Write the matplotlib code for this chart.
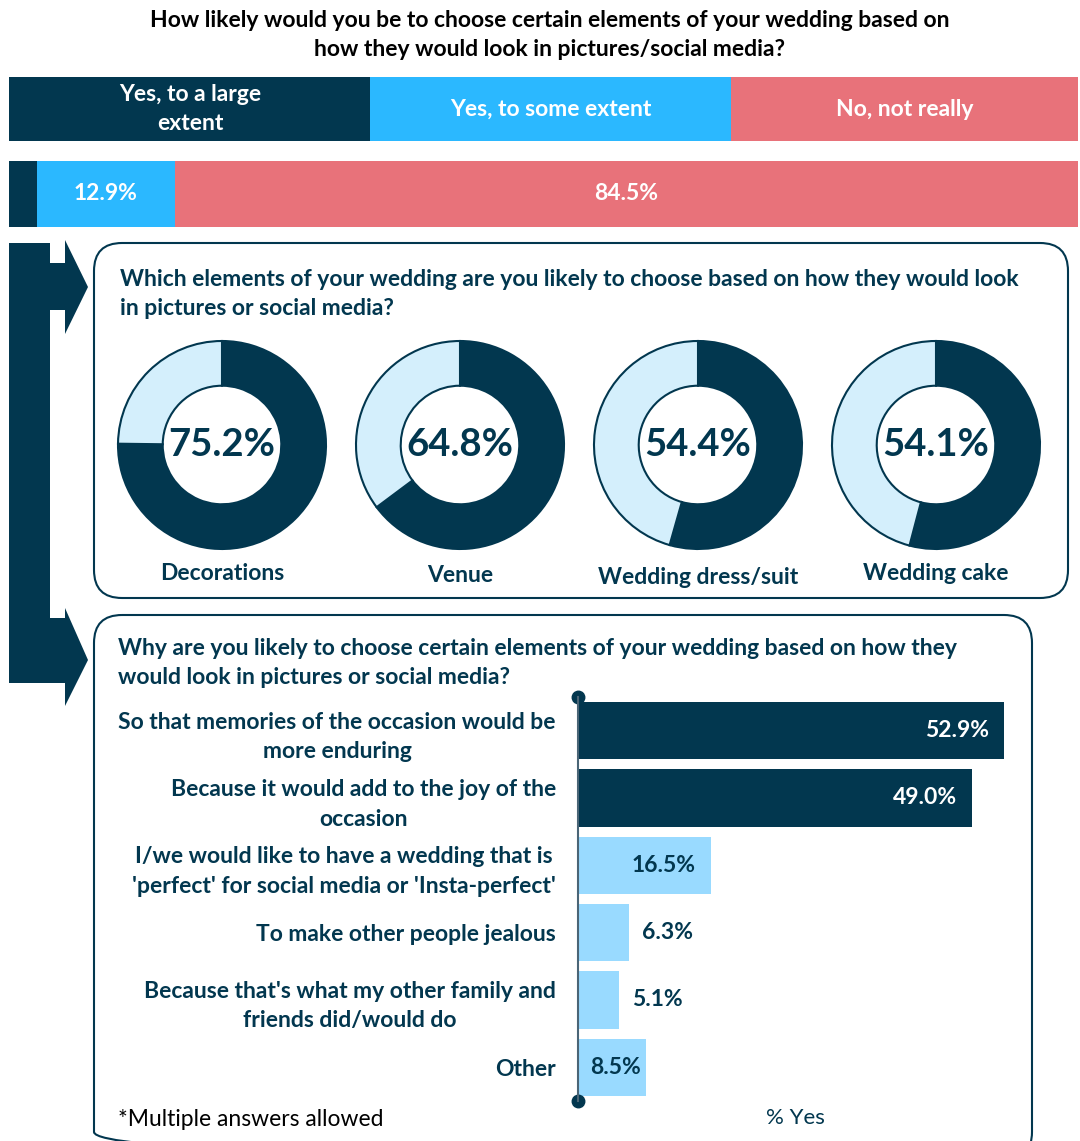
import matplotlib.pyplot as plt
from matplotlib.patches import Rectangle, FancyBboxPatch, Polygon

plt.rcParams['font.family'] = ['Lato', 'DejaVu Sans']

NAVY = '#02374F'
BLUE = '#2BB8FF'
SALMON = '#E8727A'
PALE = '#D4EFFC'
LIGHT = '#99DAFF'

# top question
title = "How likely would you be to choose certain elements of your wedding based on\nhow they would look in pictures/social media?"
likely_labels = ["Yes, to a large\nextent", "Yes, to some extent", "No, not really"]
likely_values = [2.6, 12.9, 84.5]
likely_colors = [NAVY, BLUE, SALMON]

# donuts
elements_title = "Which elements of your wedding are you likely to choose based on how they would look\nin pictures or social media?"
elements = ["Decorations", "Venue", "Wedding dress/suit", "Wedding cake"]
element_values = [75.2, 64.8, 54.4, 54.1]

# reasons
reasons_title = "Why are you likely to choose certain elements of your wedding based on how they\nwould look in pictures or social media?"
reasons = [
    "So that memories of the occasion would be\nmore enduring",
    "Because it would add to the joy of the\noccasion",
    "I/we would like to have a wedding that is\n'perfect' for social media or 'Insta-perfect'",
    "To make other people jealous",
    "Because that's what my other family and\nfriends did/would do",
    "Other",
]
reason_values = [52.9, 49.0, 16.5, 6.3, 5.1, 8.5]

FS = 16.5
LS = 1.5
W, H = 1080, 1141
fig = plt.figure(figsize=(W / 100, H / 100), dpi=100)
bg = fig.add_axes([0, 0, 1, 1])
bg.set_xlim(0, W)
bg.set_ylim(H, 0)
bg.axis('off')


def px_axes(x0, y0, x1, y1):
    ax = fig.add_axes([x0 / W, 1 - y1 / H, (x1 - x0) / W, (y1 - y0) / H])
    ax.patch.set_alpha(0)
    return ax


bg.text(550, 35, title, ha='center', va='center', fontsize=FS, fontweight='bold',
        color='black', linespacing=LS)

# header row (legend-like)
hdr = [(9, 370), (370, 731), (731, 1078)]
for (x0, x1), lab, col in zip(hdr, likely_labels, likely_colors):
    bg.add_patch(Rectangle((x0, 77), x1 - x0, 64, color=col, lw=0))
    tx = 190 if lab.startswith("Yes, to a") else (x0 + x1) / 2
    bg.text(tx, 109, lab, ha='center', va='center', fontsize=FS, fontweight='bold',
            color='white', linespacing=LS)

# stacked bar
axb = px_axes(9, 161, 1078, 227)
left = 0
for v, col in zip(likely_values, likely_colors):
    axb.barh(0, v, left=left, height=1, color=col, lw=0)
    if v > 5:
        axb.text(left + v / 2, 0, f"{v:.1f}%", ha='center', va='center', fontsize=FS,
                 fontweight='bold', color='white')
    left += v
axb.set_xlim(0, 100)
axb.set_ylim(-0.5, 0.5)
axb.axis('off')

# arrow connector
bg.add_patch(Polygon([(9, 243), (50, 243), (50, 263), (65, 263), (65, 240), (88, 287),
                      (65, 334), (65, 310), (50, 310), (50, 618), (65, 618), (65, 608),
                      (88, 660), (65, 706), (65, 683), (9, 683)],
                     closed=True, color=NAVY, lw=0))

# rounded boxes
for x0, y0, x1, y1 in [(94, 243, 1068, 598), (94, 615, 1032, 1160)]:
    bg.add_patch(FancyBboxPatch((x0, y0), x1 - x0, y1 - y0,
                                boxstyle="round,pad=0,rounding_size=28",
                                fc='none', ec=NAVY, lw=1.5))

bg.text(120, 294, elements_title, ha='left', va='center', fontsize=FS, fontweight='bold',
        color=NAVY, linespacing=LS)

# donuts
centers = [222, 460, 698, 936]
label_y = [573, 575, 577, 573]
R = 104
for cx, name, val, ly in zip(centers, elements, element_values, label_y):
    ax = px_axes(cx - 1.1 * R, 445 - 1.1 * R, cx + 1.1 * R, 445 + 1.1 * R)
    ax.pie([val, 100 - val], colors=[NAVY, PALE], startangle=90, counterclock=False,
           radius=1, wedgeprops=dict(width=0.43, edgecolor=NAVY, linewidth=1.5))
    ax.set_xlim(-1.1, 1.1)
    ax.set_ylim(-1.1, 1.1)
    ax.text(0, 0, f"{val:.1f}%", ha='center', va='center', fontsize=27.5,
            fontweight='bold', color=NAVY)
    bg.text(cx, ly, name, ha='center', va='center', fontsize=FS, fontweight='bold',
            color=NAVY)

bg.text(118, 663, reasons_title, ha='left', va='center', fontsize=FS, fontweight='bold',
        color=NAVY, linespacing=LS)

# horizontal bars
axr = px_axes(578, 697, 1061, 1101)
ypos = list(range(len(reasons)))
bar_colors = [NAVY, NAVY, LIGHT, LIGHT, LIGHT, LIGHT]
axr.barh(ypos, reason_values, height=0.85, color=bar_colors, lw=0)
axr.set_xlim(0, 60)
axr.set_ylim(len(reasons) - 0.5, -0.5)
px = 60 / 483  # data units per pixel
for y, v, col in zip(ypos, reason_values, bar_colors):
    if col == NAVY:
        axr.text(v - 15 * px, y, f"{v:.1f}%", ha='right', va='center', fontsize=FS,
                 fontweight='bold', color='white')
    elif v > 10:
        axr.text(v - 15 * px, y, f"{v:.1f}%", ha='right', va='center', fontsize=FS,
                 fontweight='bold', color=NAVY)
    elif v > 8:
        axr.text(v - 6 * px, y, f"{v:.1f}%", ha='right', va='center', fontsize=FS,
                 fontweight='bold', color=NAVY)
    else:
        axr.text(v + 13 * px, y, f"{v:.1f}%", ha='left', va='center', fontsize=FS,
                 fontweight='bold', color=NAVY)
axr.set_yticks(ypos)
axr.set_yticklabels(reasons, fontsize=FS, fontweight='bold', color=NAVY,
                    multialignment='center', linespacing=LS)
axr.tick_params(axis='y', length=0, pad=16)
axr.set_xticks([])
for s in ['top', 'right', 'bottom']:
    axr.spines[s].set_visible(False)
axr.spines['left'].set_color('#4A6576')
axr.spines['left'].set_linewidth(1.5)
axr.plot([0, 0], [0, 1], 'o', color=NAVY, ms=9, transform=axr.transAxes, clip_on=False)

bg.text(795, 1118, "% Yes", ha='center', va='center', fontsize=16, color=NAVY)
bg.text(118, 1120, "*Multiple answers allowed", ha='left', va='center', fontsize=16.5,
        color='black')

fig.savefig('out.png', dpi=100)
